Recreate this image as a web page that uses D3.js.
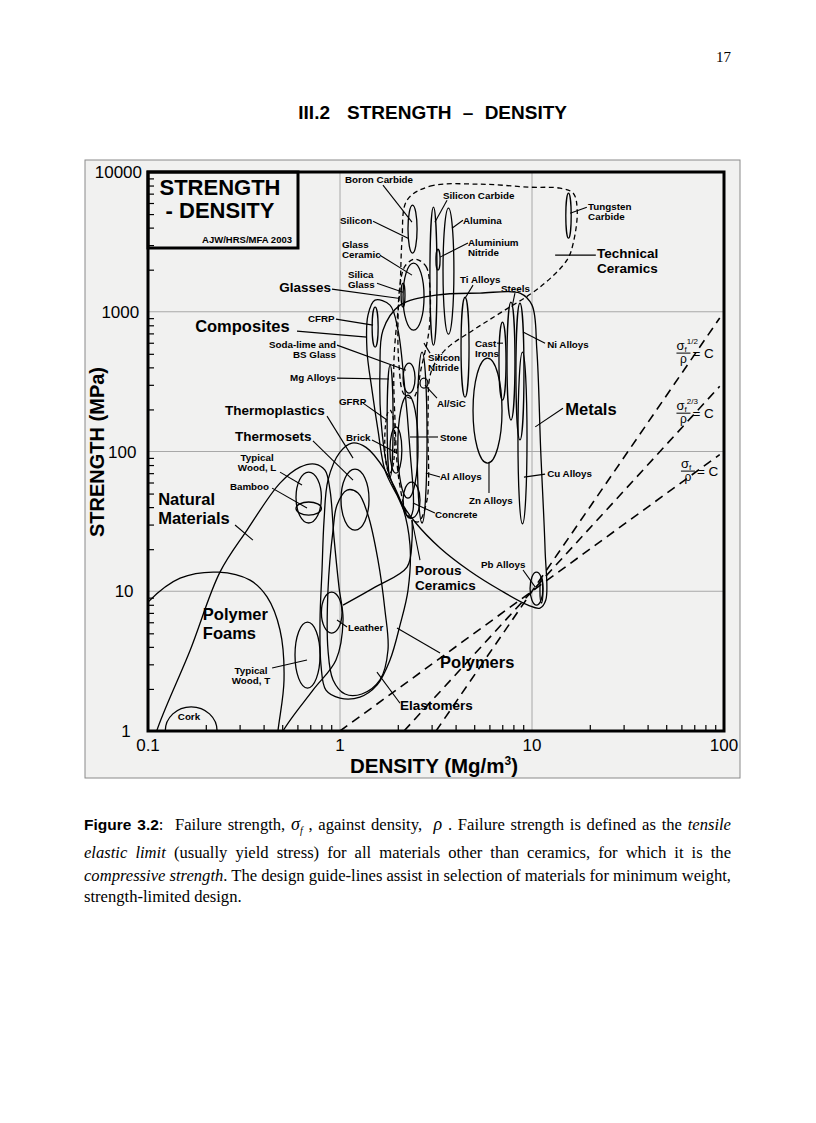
<!DOCTYPE html>
<html>
<head>
<meta charset="utf-8">
<style>
  body { margin: 0; background: #fff; }
  svg text { font-family: "Liberation Sans", Arial, sans-serif; white-space: pre; }
  .serif { font-family: "Liberation Serif", "Times New Roman", serif; }
  .env { fill: none; stroke: #000; stroke-width: 1.3; }
  .ell { fill: none; stroke: #000; stroke-width: 1.3; }
  .lead { stroke: #000; stroke-width: 1.1; }
  .grid { stroke: #a8a8a8; stroke-width: 1; }
</style>
</head>
<body>
<svg id="page" width="816" height="1123"></svg>
<script src="https://cdn.jsdelivr.net/npm/d3@7"></script>
<script>
// ---- data (density Mg/m3, strength MPa) ----
var xTicks = [0.1, 1, 10, 100];
var yTicks = [1, 10, 100, 1000, 10000];
var xGrid = [1, 10];
var yGrid = [10, 100, 1000];

// ellipses: name, density lo, density hi, strength lo, strength hi
var ceramicEllipses = [
  ["Boron Carbide", 2.26, 2.52, 2630, 5790],
  ["Silicon Carbide", 2.94, 3.2, 577, 5600],
  ["Alumina", 3.44, 3.92, 691, 5510],
  ["Aluminium Nitride", 3.16, 3.32, 1985, 2800],
  ["Glass Ceramic", 2.13, 2.74, 738, 2230],
  ["Silica Glass", 2.08, 2.18, 1080, 1600],
  ["Soda-lime Glass", 2.13, 2.46, 262, 429],
  ["Al/SiC", 2.61, 2.87, 284, 335],
  ["Stone", 2.0, 2.55, 46.4, 253],
  ["Brick", 1.82, 2.10, 70, 150],
  ["Concrete", 2.13, 2.61, 33.4, 60.4]
];
var tungstenCarbide = ["Tungsten Carbide", 15.0, 16.0, 3360, 7050];
var metalEllipses = [
  ["Ti Alloys", 4.27, 4.70, 245, 1270],
  ["Steels", 7.41, 8.15, 168, 1170],
  ["Cast Irons", 6.73, 7.32, 233, 843],
  ["Ni Alloys", 8.25, 9.08, 121, 1150],
  ["Cu Alloys", 8.45, 9.42, 30.3, 514],
  ["Zn Alloys", 4.93, 6.98, 82.6, 466],
  ["Al Alloys", 2.52, 2.84, 30.8, 514],
  ["Mg Alloys", 1.76, 1.89, 65.6, 415],
  ["Pb Alloys", 9.77, 11.4, 7.96, 13.7],
  ["Pb core", 11.0, 11.4, 8.24, 12.6]
];
var compositeEllipses = [
  ["CFRP", 1.47, 1.58, 558, 1080],
  ["GFRP", 1.71, 1.93, 70, 198]
];
var polymerEllipses = [
  ["Thermosets", 1.012, 1.416, 27.4, 74.8],
  ["Leather", 0.80, 1.024, 5.02, 9.87]
];
var naturalEllipses = [
  ["Typical Wood, L", 0.59, 0.80, 30.8, 71.2],
  ["Bamboo", 0.59, 0.80, 35.1, 43.5],
  ["Typical Wood, T", 0.583, 0.787, 2.03, 6.02],
  ["Cork", 0.123, 0.229, 0.673, 1.49]
];

// envelopes: [density, strength] outline points
var techCeramics = [[2.234,6280],[2.944,7910],[5.36,8180],[9.77,7790],[14.0,7660],[16.4,7050],[17.2,5330],
  [16.4,3100],[15.2,2340],[11.0,1500],[6.81,977],[4.93,738],[3.52,531],[2.98,370],[2.872,168],[2.838,44.9],
  [2.549,31.3],[2.261,35.1],[2.029,62.4],[1.934,168],[1.91,451],[2.054,1500],[2.104,3250]];
var glasses = [[2.458,2380],[2.80,2120],[2.944,1430],[2.908,738],[2.67,415],[2.40,241],[2.154,257],
  [2.029,415],[2.005,871],[2.054,1550],[2.18,2120]];
var metals = [[1.674,738],[2.054,1115],[3.162,1315],[5.36,1360],[8.66,1360],[10,1115],[10.6,531],[11.1,102],
  [11.7,19.7],[11.8,8.65],[11.0,7.58],[9.53,7.96],[6.81,10.2],[4.76,13.9],[3.32,20.4],[2.458,31.3],
  [2.054,44.9],[1.778,73.6],[1.635,168],[1.615,382]];
var composites = [[1.521,1210],[1.821,1115],[2.005,738],[2.154,324],[2.315,102],[2.40,38.1],[2.29,33.4],
  [1.981,48.8],[1.714,73.6],[1.577,142],[1.468,275],[1.382,531],[1.399,945]];
var polymers = [[0.826,32.3],[0.866,62.4],[1.0,99],[1.155,115],[1.366,107],[1.714,73.6],[2.104,41.4],
  [2.315,21.4],[2.261,10.2],[2.054,5.73],[1.821,3.22],[1.558,2.13],[1.27,1.75],[1.0,1.72],[0.845,1.96],
  [0.796,2.97],[0.787,6.22],[0.806,14.2]];
var elastomers = [[0.92,27.4],[0.965,41.4],[1.088,53.0],[1.241,50.4],[1.399,35.1],[1.577,16.7],[1.714,7.34],
  [1.778,3.80],[1.615,2.32],[1.30,1.84],[1.062,1.84],[0.92,2.32],[0.866,3.80],[0.866,10.2]];
var natural = [[0.102,0.62],[0.111,1],[0.166,3.80],[0.237,13.7],[0.328,27.4],[0.487,59.4],[0.619,77.3],
  [0.741,81.3],[0.835,73.6],[0.887,53.0],[0.93,24.4],[0.988,10.7],[1.037,6.22],[0.953,3.22],[0.723,1.96],
  [0.505,1],[0.432,0.62]];
var foams = [[0.0715,4.48],[0.1,8.37],[0.147,12.4],[0.232,13.7],[0.34,12.0],[0.417,9.1],[0.487,5.28],
  [0.511,2.32],[0.475,1],[0.443,0.446],[0.0715,0.446]];
var porousEdge = [[1.037,7.96],[1.521,10.7],[2.234,14.9],[2.371,23.2],[2.371,32.3]];

// guide lines sigma = C rho^n through (10 Mg/m3, 10 MPa)
var guideExponents = [1, 1.5, 2];
var guideAnchor = [10, 10];
var guideTopDensity = 95;
var guideLabels = [["1/2", 61.5, 506], ["2/3", 61.5, 188], ["", 64.9, 72.4]];

// labels: text ("|" = new line), density, strength
var smallLabels = [
  ["Boron Carbide", 1.062, 8320], ["Silicon Carbide", 3.44, 6390], ["Silicon", 1.0, 4230],
  ["Alumina", 4.37, 4230], ["Glass|Ceramic", 1.024, 2850], ["Aluminium|Nitride", 4.64, 2950],
  ["Silica|Glass", 1.10, 1740], ["Ti Alloys", 4.22, 1600], ["Steels", 6.90, 1380], ["CFRP", 0.681, 843],
  ["Soda-lime and|BS Glass", 0.953, 549], ["Cast|Irons", 5.05, 558], ["Ni Alloys", 12.0, 549],
  ["Silicon|Nitride", 2.872, 443], ["Mg Alloys", 0.953, 319], ["GFRP", 0.988, 215], ["Al/SiC", 3.2, 208],
  ["Brick", 1.075, 119], ["Stone", 3.32, 119], ["Typical|Wood, L", 0.37, 85.4], ["Al Alloys", 3.32, 62.4],
  ["Cu Alloys", 12.0, 65.6], ["Bamboo", 0.267, 53.0], ["Zn Alloys", 4.70, 42.1], ["Concrete", 3.12, 33.4],
  ["Pb Alloys", 5.43, 14.7], ["Leather", 1.10, 5.19], ["Typical|Wood, T", 0.344, 2.56], ["Cork", 0.143, 1.20],
  ["Tungsten|Carbide", 19.6, 5330]
];
var midLabels = [
  ["Glasses", 0.898, 1380], ["Thermoplastics", 0.252, 182], ["Thermosets", 0.284, 119],
  ["Technical|Ceramics", 21.8, 2420], ["Porous|Ceramics", 2.458, 13.1], ["Elastomers", 2.054, 1.41]
];
var bigLabels = [
  ["Composites", 0.176, 715], ["Natural|Materials", 0.113, 41.4], ["Polymer|Foams", 0.193, 6.22],
  ["Metals", 14.9, 182], ["Polymers", 3.32, 2.82]
];
var rightAligned = ["Soda-lime and|BS Glass", "Mg Alloys", "Glasses"];
var centered = ["Typical|Wood, L", "Typical|Wood, T"];

// leader lines: from density, from strength, to density, to strength
var leaders = [
  [1.674,8050,2.371,4375], [1.486,4450,2.261,3360], [3.61,6280,3.12,4375], [4.37,4520,3.83,3960],
  [4.64,3100,3.32,2460], [1.615,2540,2.371,1828], [1.558,1600,2.13,1380], [0.908,1452,2.005,1250],
  [4.93,1550,4.48,1250], [8.15,1360,7.87,1080], [0.953,885,1.486,802], [0.597,727,1.382,658],
  [0.965,577,2.208,382], [6.57,596,7.06,596], [8.98,715,11.7,596], [2.944,506,2.738,596],
  [0.965,335,1.80,330], [1.318,222,1.757,168], [3.2,241,2.77,299], [1.468,121,1.981,97.5],
  [3.24,127,2.315,127], [0.856,179,1.169,89.7], [0.723,119,1.169,62.4], [14.5,204,10.4,150],
  [3.32,65.6,2.80,70.1], [11.7,68.9,9.08,65.6], [5.97,82.6,5.97,50.4], [3.12,36.3,2.40,42.8],
  [0.487,71.2,0.634,57.5], [0.443,54.7,0.673,39.4], [0.284,29.8,0.352,23.2], [2.61,16.7,2.371,32.3],
  [8.98,14.2,10.4,10.7], [1.088,5.55,0.965,6.22], [3.32,3.61,1.981,5.45], [2.054,1.58,1.558,2.64],
  [0.443,2.82,0.673,3.22], [15.8,5070,19.3,5600], [13.2,2540,21.5,2540]
];

// ---- drawing ----
var svg = d3.select("#page");
var x = d3.scaleLog().domain([0.1, 100]).range([148, 724]);
var y = d3.scaleLog().domain([1, 10000]).range([731, 172]);
var pLeft = x.range()[0], pRight = x.range()[1], pTop = y.range()[1], pBottom = y.range()[0];

// page header
svg.append("text").attr("class", "serif").attr("x", 731).attr("y", 62)
  .attr("text-anchor", "end").style("font-size", "15px").text("17");
var titleParts = [["III.2", 330, "end"], ["STRENGTH", 347, "start"], ["\u2013", 468, "middle"], ["DENSITY", 567, "end"]];
titleParts.forEach(function(p) {
  svg.append("text").attr("x", p[1]).attr("y", 119).attr("text-anchor", p[2])
    .style("font-size", "19px").style("font-weight", "bold").text(p[0]);
});

// figure background
svg.append("rect").attr("x", 85).attr("y", 160).attr("width", 655).attr("height", 618)
  .attr("fill", "#f1f1f0").attr("stroke", "#8a8a8a").attr("stroke-width", 1);

svg.append("defs").append("clipPath").attr("id", "plotClip")
  .append("rect").attr("x", pLeft).attr("y", pTop).attr("width", pRight - pLeft).attr("height", pBottom - pTop);

var plot = svg.append("g").attr("clip-path", "url(#plotClip)");

// grid
plot.selectAll(".gx").data(xGrid).enter().append("line").attr("class", "grid")
  .attr("x1", function(d) { return x(d); }).attr("x2", function(d) { return x(d); })
  .attr("y1", pTop).attr("y2", pBottom);
plot.selectAll(".gy").data(yGrid).enter().append("line").attr("class", "grid")
  .attr("y1", function(d) { return y(d); }).attr("y2", function(d) { return y(d); })
  .attr("x1", pLeft).attr("x2", pRight);

// guide lines
plot.selectAll(".guide").data(guideExponents).enter().append("line")
  .attr("x1", function(n) { return x(guideAnchor[0] * Math.pow(1 / guideAnchor[1], 1 / n)); })
  .attr("y1", y(1))
  .attr("x2", x(guideTopDensity))
  .attr("y2", function(n) { return y(guideAnchor[1] * Math.pow(guideTopDensity / guideAnchor[0], n)); })
  .attr("stroke", "#000").attr("stroke-width", 1.6).attr("stroke-dasharray", "9,6");

var closedLine = d3.line().x(function(d) { return x(d[0]); }).y(function(d) { return y(d[1]); })
  .curve(d3.curveCatmullRomClosed.alpha(0.5));
var openLine = d3.line().x(function(d) { return x(d[0]); }).y(function(d) { return y(d[1]); })
  .curve(d3.curveCatmullRom.alpha(0.5));

function envelope(pts, dashed) {
  plot.append("path").attr("class", "env").attr("d", closedLine(pts))
    .attr("stroke-dasharray", dashed ? "5,3.5" : null);
}
envelope(foams);
envelope(natural);
envelope(polymers);
envelope(elastomers);
envelope(composites);
envelope(metals);
envelope(glasses, true);
envelope(techCeramics, true);
plot.append("path").attr("class", "env").attr("d", openLine(porousEdge));

function ellipses(list, cls) {
  plot.selectAll("." + cls).data(list).enter().append("ellipse").attr("class", "ell " + cls)
    .attr("cx", function(e) { return (x(e[1]) + x(e[2])) / 2; })
    .attr("cy", function(e) { return (y(e[3]) + y(e[4])) / 2; })
    .attr("rx", function(e) { return (x(e[2]) - x(e[1])) / 2; })
    .attr("ry", function(e) { return (y(e[3]) - y(e[4])) / 2; })
    .attr("stroke-dasharray", function(e) { return e[0] === "GFRP" ? "4,3" : null; });
}
ellipses(naturalEllipses, "nat");
ellipses(polymerEllipses, "pol");
ellipses(compositeEllipses, "cmp");
ellipses(ceramicEllipses, "cer");
ellipses(metalEllipses, "met");
ellipses([tungstenCarbide], "wc");
plot.selectAll(".wc").attr("fill", "#555").attr("stroke-width", 1.5);

// leaders
svg.selectAll(".lead").data(leaders).enter().append("line").attr("class", "lead")
  .attr("x1", function(l) { return x(l[0]); }).attr("y1", function(l) { return y(l[1]); })
  .attr("x2", function(l) { return x(l[2]); }).attr("y2", function(l) { return y(l[3]); });

// labels
function labels(list, size, lineH) {
  list.forEach(function(l) {
    var anchor = rightAligned.indexOf(l[0]) >= 0 ? "end" : (centered.indexOf(l[0]) >= 0 ? "middle" : "start");
    var t = svg.append("text").attr("x", x(l[1])).attr("y", y(l[2]))
      .attr("text-anchor", anchor).style("font-size", size + "px").style("font-weight", "bold");
    l[0].split("|").forEach(function(line, i) {
      t.append("tspan").attr("x", x(l[1])).attr("dy", i ? lineH : 0).text(line);
    });
  });
}
labels(smallLabels, 9.8, 10);
labels(midLabels, 13.5, 15);
labels(bigLabels, 16.5, 19);

// guide labels
guideLabels.forEach(function(g) {
  var cx = x(g[1]), by = y(g[2]);
  var num = svg.append("text").attr("x", cx - 7).attr("y", by - 3).style("font-size", "13px");
  num.append("tspan").text("\u03c3");
  num.append("tspan").style("font-size", "8px").attr("dy", 2).text("f");
  if (g[0]) num.append("tspan").style("font-size", "8px").attr("dy", -8).text(g[0]);
  svg.append("line").attr("x1", cx - 7).attr("x2", cx + 7).attr("y1", by).attr("y2", by)
    .attr("stroke", "#000").attr("stroke-width", 1);
  svg.append("text").attr("x", cx).attr("y", by + 10).attr("text-anchor", "middle")
    .style("font-size", "12px").text("\u03c1");
  svg.append("text").attr("x", cx + 9).attr("y", by + 5).style("font-size", "13.5px").text("= C");
});

// title box
svg.append("rect").attr("x", pLeft).attr("y", pTop).attr("width", 150).attr("height", 76)
  .attr("fill", "none").attr("stroke", "#000").attr("stroke-width", 3);
svg.append("text").attr("x", 220).attr("y", 195).attr("text-anchor", "middle")
  .style("font-size", "22px").style("font-weight", "bold").text("STRENGTH");
svg.append("text").attr("x", 220).attr("y", 218).attr("text-anchor", "middle")
  .style("font-size", "22px").style("font-weight", "bold").text("- DENSITY");
svg.append("text").attr("x", 292).attr("y", 243).attr("text-anchor", "end")
  .style("font-size", "9.5px").style("font-weight", "bold").text("AJW/HRS/MFA 2003");

// minor ticks
var minors = [];
[0.1, 1, 10].forEach(function(dec) { for (var m = 2; m < 10; m++) minors.push(dec * m); });
var yMinors = [];
[1, 10, 100, 1000].forEach(function(dec) { for (var m = 2; m < 10; m++) yMinors.push(dec * m); });

svg.append("g").attr("transform", "translate(0," + pBottom + ")")
  .call(d3.axisBottom(x).tickValues(minors).tickSize(-6).tickFormat(""))
  .call(function(g) { g.select(".domain").remove(); g.selectAll("line").attr("stroke-width", 1.2); });
svg.append("g").attr("transform", "translate(" + pLeft + ",0)")
  .call(d3.axisLeft(y).tickValues(yMinors).tickSize(-6).tickFormat(""))
  .call(function(g) { g.select(".domain").remove(); g.selectAll("line").attr("stroke-width", 1.2); });

// frame
svg.append("rect").attr("x", pLeft).attr("y", pTop).attr("width", pRight - pLeft).attr("height", pBottom - pTop)
  .attr("fill", "none").attr("stroke", "#000").attr("stroke-width", 3);

// tick labels
svg.selectAll(".xl").data(xTicks).enter().append("text")
  .attr("x", function(d) { return x(d); }).attr("y", 751).attr("text-anchor", "middle")
  .style("font-size", "17px").text(function(d) { return d; });
svg.selectAll(".yl").data(yTicks).enter().append("text")
  .attr("x", function(d) { return 126 - 1.9 * Math.log10(d); })
  .attr("y", function(d) { return y(d) + 6; }).attr("text-anchor", "middle")
  .style("font-size", "17px").text(function(d) { return d; });

// axis titles
var xt = svg.append("text").attr("x", 434).attr("y", 773).attr("text-anchor", "middle")
  .style("font-size", "20.5px").style("font-weight", "bold");
xt.append("tspan").text("DENSITY (Mg/m");
xt.append("tspan").style("font-size", "12px").attr("dy", -8).text("3");
xt.append("tspan").attr("dy", 8).text(")");
svg.append("text").attr("transform", "translate(104,452) rotate(-90)").attr("text-anchor", "middle")
  .style("font-size", "20px").style("font-weight", "bold").text("STRENGTH (MPa)");

// caption, justified by stretching the word spaces
function capLine(yy, parts, justify) {
  var t = svg.append("text").attr("class", "serif").attr("x", 84).attr("y", yy).style("font-size", "16.6px");
  var spaces = 0;
  parts.forEach(function(p) {
    var s = t.append("tspan").text(p[0]);
    spaces += (p[0].match(/ /g) || []).length;
    if (p[1] === "b") s.style("font-family", "Liberation Sans, Arial, sans-serif").style("font-weight", "bold").style("font-size", "15.5px");
    if (p[1] === "i") s.style("font-style", "italic");
    if (p[1] === "sig") s.style("font-style", "italic").style("font-size", "18px");
    if (p[1] === "sub") s.style("font-style", "italic").style("font-size", "10px").attr("dy", 4);
    if (p[1] === "up") s.attr("dy", -4);
  });
  if (justify) {
    var extra = (647 - t.node().getComputedTextLength()) / spaces;
    t.style("word-spacing", extra + "px");
  }
}
capLine(830, [["Figure 3.2", "b"], [":  Failure strength, "], ["\u03c3", "sig"], ["f", "sub"], [" , against density,  ", "up"],
  ["\u03c1", "sig"], [" . Failure strength is defined as the "], ["tensile", "i"]], true);
capLine(858, [["elastic limit", "i"], [" (usually yield stress) for all materials other than ceramics, for which it is the"]], true);
capLine(881, [["compressive strength", "i"], [". The design guide-lines assist in selection of materials for minimum weight,"]], true);
capLine(902, [["strength-limited design."]], false);
</script>
</body>
</html>
